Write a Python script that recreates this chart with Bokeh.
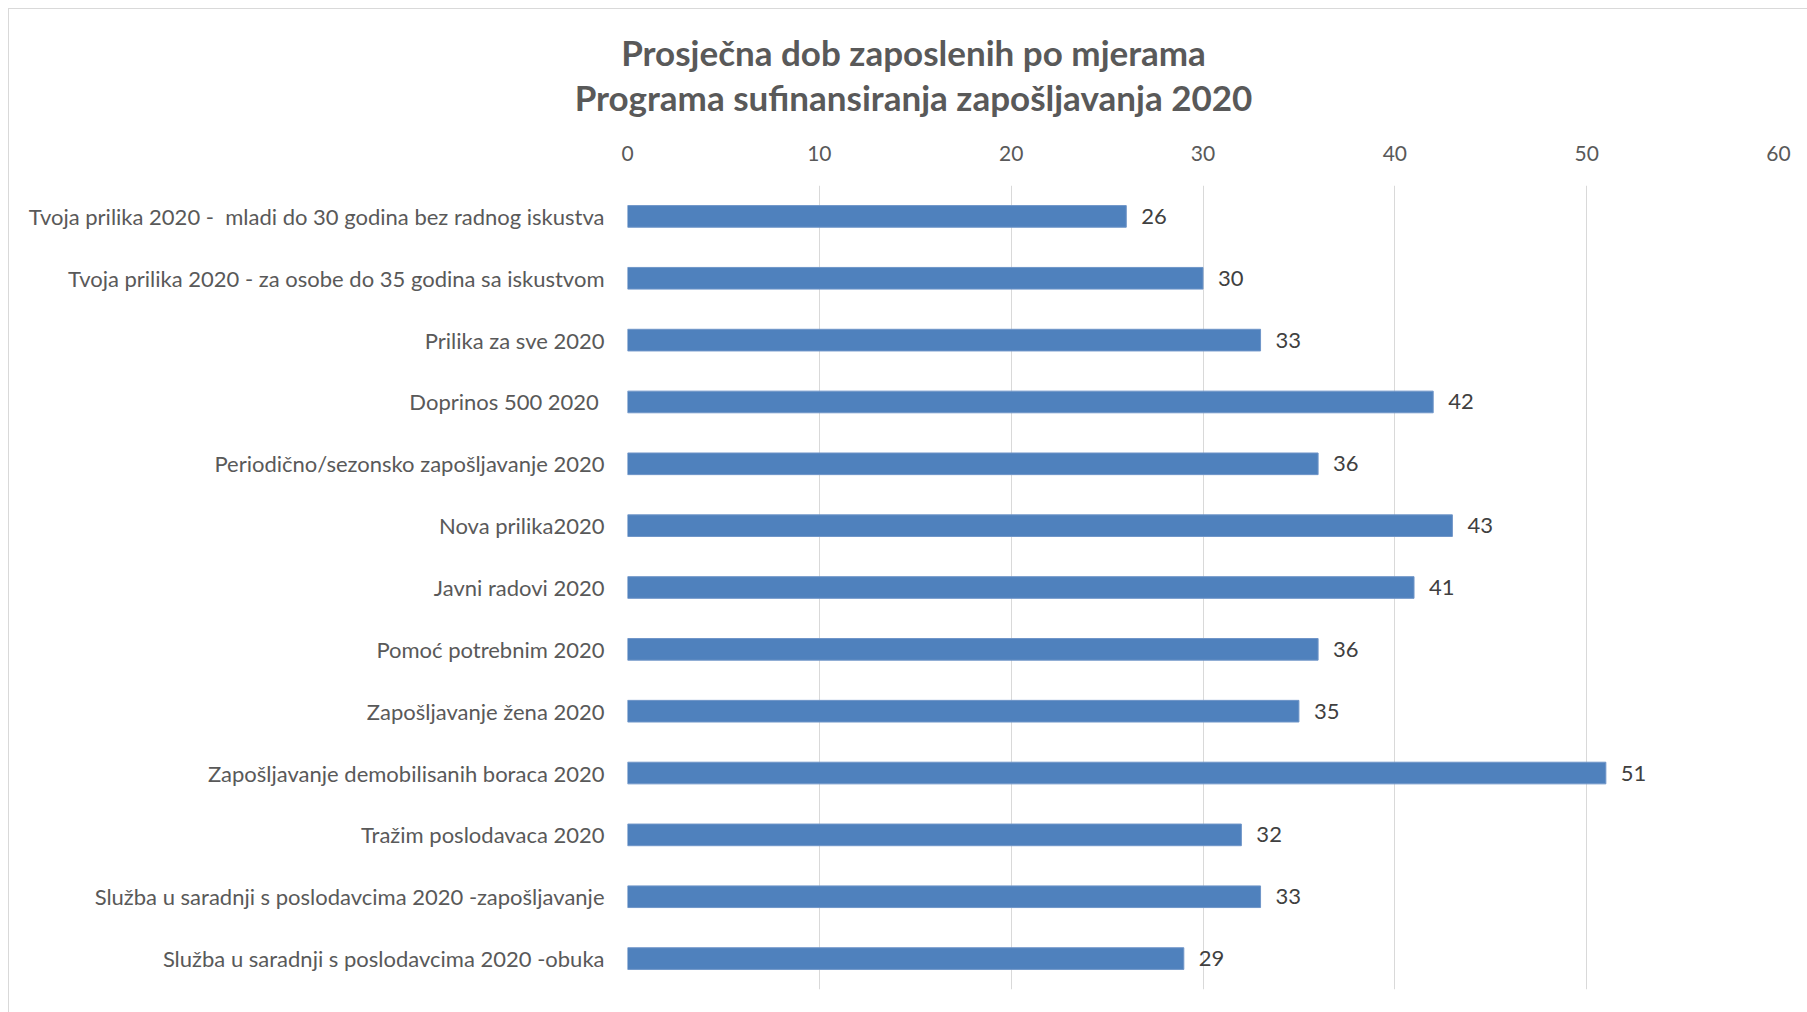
from bokeh.plotting import figure
from bokeh.models import Range1d, FactorRange, FixedTicker, ColumnDataSource
from bokeh.layouts import column
from bokeh.embed import file_html
from bokeh.resources import INLINE
from bokeh.core.properties import value

categories = [
    "Tvoja prilika 2020 -\u00a0 mladi do 30 godina bez radnog iskustva",
    "Tvoja prilika 2020 - za osobe do 35 godina sa iskustvom",
    "Prilika za sve 2020",
    "Doprinos 500 2020\u00a0",
    "Periodično/sezonsko zapošljavanje 2020",
    "Nova prilika2020",
    "Javni radovi 2020",
    "Pomoć potrebnim 2020",
    "Zapošljavanje žena 2020",
    "Zapošljavanje demobilisanih boraca 2020",
    "Tražim poslodavaca 2020",
    "Služba u saradnji s poslodavcima 2020 -zapošljavanje",
    "Služba u saradnji s poslodavcima 2020 -obuka",
]
ages = [26, 30, 33, 42, 36, 43, 41, 36, 35, 51, 32, 33, 29]
x_ticks = [0, 10, 20, 30, 40, 50, 60]
title_lines = ["Prosječna dob zaposlenih po mjerama",
               "Programa sufinansiranja zapošljavanja 2020"]

FONT = "Lato"
W = 1798
TITLE_H = 120
MAIN_H = 883

# ---- title strip ----
t = figure(width=W, height=TITLE_H, output_backend="svg", toolbar_location=None,
           x_range=Range1d(0, W), y_range=Range1d(TITLE_H, 0),
           x_axis_type=None, y_axis_type=None, min_border=0)
t.frame_align = False
t.grid.visible = False
t.outline_line_color = None
tsrc = ColumnDataSource(dict(x=[904, 904], y=[42, 87], txt=title_lines))
t.text(x="x", y="y", text="txt", source=tsrc, text_align="center",
       text_baseline="middle", text_font=value(FONT), text_font_style="bold",
       text_font_size="35px", text_color="#595959")

# ---- main chart ----
src = ColumnDataSource(dict(cat=categories, val=ages, lab=[str(v) for v in ages]))
p = figure(width=W, height=MAIN_H, output_backend="svg", toolbar_location=None,
           y_range=FactorRange(factors=categories[::-1], range_padding=0),
           x_range=Range1d(0, 60), x_axis_location="above",
           min_border_left=618, min_border_right=29, min_border_top=56,
           min_border_bottom=23)
p.frame_align = False

p.hbar(y="cat", right="val", left=0, height=0.35, source=src,
       fill_color="#4F81BD", line_color="#6F95C8", line_width=1)
p.text(x="val", y="cat", text="lab", source=src, x_offset=15,
       text_align="left", text_baseline="middle", text_font=value(FONT),
       text_font_size="22px", text_color="#404040")

p.outline_line_color = None
p.ygrid.grid_line_color = None
p.xgrid.grid_line_color = "#D9D9D9"
p.xgrid.grid_line_width = 1
p.xaxis.ticker = FixedTicker(ticks=x_ticks)
for ax in (p.xaxis[0], p.yaxis[0]):
    ax.axis_line_color = None
    ax.major_tick_line_color = None
    ax.minor_tick_line_color = None
    ax.major_tick_in = 0
    ax.major_tick_out = 0
    ax.major_label_text_font = FONT
    ax.major_label_text_color = "#595959"
p.xaxis.major_label_text_font_size = "21px"
p.xaxis.major_label_standoff = 25
p.yaxis.major_label_text_font_size = "22px"
p.yaxis.major_label_standoff = 23

layout = column(t, p, spacing=0,
                styles={"margin-left": "8px", "margin-top": "8px",
                        "border-left": "1px solid #D9D9D9",
                        "border-top": "1px solid #D9D9D9"})

open("out.html", "w").write(file_html(layout, INLINE))
